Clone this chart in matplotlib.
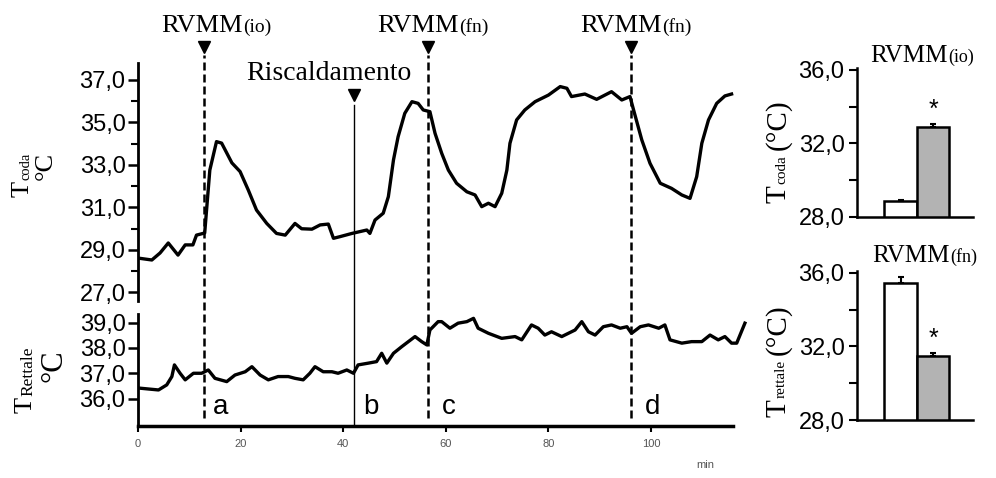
import matplotlib
matplotlib.use('Agg')
import matplotlib.pyplot as plt
from matplotlib import transforms
from matplotlib.lines import Line2D
from matplotlib.ticker import MultipleLocator, FuncFormatter

# tail temperature trace (min, deg C)
tcoda_t = [0, 2.7, 4.3, 5.9, 7.8, 9.2, 10.7, 11.4, 13.0, 14.0,
           15.3, 16.3, 18.3, 19.9, 21.5, 23.1, 25.1, 27.0, 28.7, 30.6,
           31.9, 33.9, 35.5, 37.1, 38.1, 39.4, 41.7, 44.6, 45.2, 46.2,
           47.8, 48.8, 49.8, 50.7, 52.0, 53.4, 54.6, 55.6, 56.9, 57.9,
           59.2, 60.5, 62.1, 64.1, 65.7, 67.0, 68.3, 69.6, 70.9, 71.9,
           72.5, 73.8, 75.4, 77.4, 80.0, 82.3, 83.6, 84.5, 87.1, 89.4,
           92.3, 94.3, 95.9, 96.6, 98.2, 99.8, 101.8, 104.0, 106.0, 107.6,
           108.9, 109.9, 111.2, 112.8, 114.4, 115.7]
tcoda = [28.62, 28.53, 28.86, 29.33, 28.76, 29.24, 29.24, 29.70, 29.80, 32.76,
         34.10, 34.03, 33.10, 32.69, 31.82, 30.88, 30.25, 29.78, 29.70, 30.25,
         30.00, 29.98, 30.18, 30.22, 29.55, 29.63, 29.78, 29.94, 29.78, 30.41,
         30.73, 31.51, 33.24, 34.33, 35.43, 35.98, 35.90, 35.59, 35.51, 34.49,
         33.55, 32.76, 32.14, 31.74, 31.59, 31.04, 31.20, 31.04, 31.67, 32.76,
         34.02, 35.12, 35.59, 35.98, 36.29, 36.69, 36.61, 36.22, 36.34, 36.09,
         36.45, 36.06, 36.22, 35.59, 34.18, 33.08, 32.14, 31.90, 31.59, 31.43,
         32.45, 34.02, 35.12, 35.90, 36.25, 36.34]

# rectal temperature trace (min, deg C)
trett_t = [0.4, 4.0, 5.6, 6.6, 7.1, 8.2, 9.2, 10.8, 12.4, 13.7,
           15.0, 17.3, 18.9, 20.9, 22.2, 23.8, 25.4, 27.3, 29.3, 30.6,
           32.2, 33.5, 34.5, 36.1, 37.8, 39.0, 40.7, 42.0, 42.9, 44.9,
           46.5, 47.5, 48.5, 49.8, 51.4, 52.7, 54.0, 55.3, 56.3, 56.9,
           58.5, 59.2, 60.8, 62.4, 64.1, 65.4, 66.3, 68.3, 70.9, 73.5,
           74.8, 76.7, 78.0, 79.3, 80.6, 82.6, 83.9, 85.2, 86.5, 87.8,
           89.1, 90.7, 92.3, 94.0, 95.3, 96.2, 97.9, 99.5, 101.5, 102.7,
           103.7, 106.0, 107.9, 109.9, 111.5, 113.1, 114.4, 115.7, 116.7, 118.3]
trett = [36.41, 36.34, 36.54, 36.87, 37.33, 37.00, 36.74, 37.00, 37.00, 37.13,
         36.80, 36.67, 36.93, 37.06, 37.26, 36.93, 36.74, 36.87, 36.87, 36.80,
         36.74, 37.00, 37.26, 37.06, 37.06, 37.00, 37.13, 37.00, 37.33, 37.40,
         37.46, 37.79, 37.40, 37.79, 38.05, 38.25, 38.45, 38.25, 38.12, 38.71,
         39.04, 39.04, 38.78, 38.98, 39.04, 39.17, 38.78, 38.58, 38.38, 38.45,
         38.32, 38.91, 38.78, 38.51, 38.64, 38.45, 38.58, 38.71, 39.04, 38.64,
         38.51, 38.84, 38.91, 38.78, 38.84, 38.58, 38.84, 38.91, 38.78, 38.91,
         38.32, 38.19, 38.25, 38.25, 38.51, 38.32, 38.45, 38.19, 38.19, 38.98]

# events (min)
rvmm_times = [12.8, 56.5, 96.1]
rvmm_subs = ['(io)', '(fn)', '(fn)']
heat_time = 42.1
phase_letters = ['a', 'b', 'c', 'd']

# bar summaries: control (white) vs treated (grey)
io_means = [28.85, 32.9]
io_errs = [0.05, 0.15]
fn_means = [35.45, 31.5]
fn_errs = [0.3, 0.12]

W, H = 996, 478
SANS = 'Liberation Sans'
SERIF = 'Liberation Serif'

fig = plt.figure(figsize=(W / 100, H / 100), dpi=100)
renderer = fig.canvas.get_renderer()


def fx(px):
    return px / W


def fy(py):
    return 1 - py / H


def comma_fmt(v, pos):
    return f'{v:.1f}'.replace('.', ',')


def rich(px, py, parts, rotation=0, family=SERIF):
    """Draw consecutive text pieces of different sizes on one baseline"""
    x, y = fx(px), fy(py)
    for s, size, gap in parts:
        if rotation:
            y += gap / H
        else:
            x += gap / W
        t = fig.text(x, y, s, fontsize=size, family=family, ha='left',
                     va='baseline', rotation=rotation, rotation_mode='anchor')
        bb = t.get_window_extent(renderer)
        if rotation:
            y = bb.y1 / H
        else:
            x = bb.x1 / W


XMAX = 119.0

# ---- time course, tail ----
ax_top = fig.add_axes([fx(138), fy(301), 610.5 / W, 238 / H])
ax_top.plot(tcoda_t, tcoda, color='black', lw=2.4, solid_joinstyle='round')
ax_top.set_xlim(0, XMAX)
ax_top.set_ylim(26.6, 37.8)
for s in ['top', 'right', 'bottom']:
    ax_top.spines[s].set_visible(False)
ax_top.spines['left'].set_linewidth(2)
ax_top.set_xticks([])
ax_top.yaxis.set_major_locator(MultipleLocator(2, offset=1))
ax_top.yaxis.set_minor_locator(MultipleLocator(2))
ax_top.yaxis.set_major_formatter(FuncFormatter(comma_fmt))
ax_top.tick_params(axis='y', which='major', length=7, width=1.8, pad=2, labelsize=17)
ax_top.tick_params(axis='y', which='minor', length=5, width=1.5)
ax_top.patch.set_visible(False)

# ---- time course, rectal ----
ax_bot = fig.add_axes([fx(138), fy(426.4), 610.5 / W, 112.6 / H])
ax_bot.plot(trett_t, trett, color='black', lw=2.4, solid_joinstyle='round')
ax_bot.set_xlim(0, XMAX)
ax_bot.set_ylim(34.9, 39.35)
for s in ['top', 'right']:
    ax_bot.spines[s].set_visible(False)
ax_bot.spines['left'].set_linewidth(2)
ax_bot.spines['bottom'].set_linewidth(2.5)
ax_bot.spines['bottom'].set_bounds(0, 115.9)
ax_bot.set_yticks([36, 37, 38, 39])
ax_bot.yaxis.set_major_formatter(FuncFormatter(comma_fmt))
ax_bot.set_xticks(range(0, 101, 20))
ax_bot.tick_params(axis='y', length=7, width=1.8, pad=2, labelsize=17)
ax_bot.tick_params(axis='x', length=4, width=1.5, pad=5, labelsize=8,
                   labelcolor='#555555')
ax_bot.patch.set_visible(False)

for a in [ax_top, ax_bot]:
    for lab in a.get_yticklabels() + a.get_xticklabels():
        lab.set_family(SANS)

fig.text(fx(705), fy(465), 'min', fontsize=8, family=SANS, color='#555555',
         ha='center', va='center')

# event markers spanning both panels
trans = transforms.blended_transform_factory(ax_top.transData, fig.transFigure)
for t in rvmm_times:
    fig.add_artist(Line2D([t, t], [fy(418), fy(55)], transform=trans,
                          color='black', lw=1.8, ls=(0, (3.2, 1.6))))
    fig.add_artist(Line2D([t], [fy(47)], transform=trans, marker='v', ms=9,
                          color='black', ls='none'))
fig.add_artist(Line2D([heat_time, heat_time], [fy(425), fy(105)], transform=trans,
                      color='black', lw=1.0))
fig.add_artist(Line2D([heat_time], [fy(95)], transform=trans, marker='v', ms=9,
                      color='black', ls='none'))

for px, sub in zip([161, 377, 580], rvmm_subs):
    rich(px, 32, [('RVMM', 19, 0), (sub, 14, 1)])
fig.text(fx(329), fy(80), 'Riscaldamento', fontsize=20, family=SERIF,
         ha='center', va='baseline')

for px, letter in zip([213, 363, 442, 645], phase_letters):
    fig.text(fx(px), fy(414), letter, fontsize=20, family=SANS,
             ha='left', va='baseline')

# left axis labels
rich(29, 197, [('T', 19, 0), ('coda', 10.5, 1)], rotation=90)
fig.text(fx(57), fy(166), '°C', fontsize=19, family=SERIF, rotation=90,
         ha='right', va='center')
rich(32, 413, [('T', 19, 0), ('Rettale', 12.5, 1)], rotation=90)
fig.text(fx(68), fy(366), '°C', fontsize=22, family=SERIF, rotation=90,
         ha='right', va='center')


# ---- bar summaries ----
def bar_panel(bottom_py, means, errs, title_sub, title_px, title_py, sub_label,
              label_py):
    ax = fig.add_axes([fx(857), fy(bottom_py), 116 / W, 149 / H])
    xs = [1.32, 2.31]
    ax.bar(xs, means, width=0.99, bottom=0, color=['white', '#b3b3b3'],
           edgecolor='black', linewidth=1.8, zorder=2)
    ax.errorbar(xs, means, yerr=[[0, 0], errs], fmt='none', ecolor='black',
                elinewidth=1.5, capsize=2.5, capthick=1.5, zorder=3)
    ax.text(xs[1], means[1] + errs[1] + 0.12, '*', fontsize=18, family=SANS,
            ha='center', va='bottom')
    ax.set_xlim(0, 3.52)
    ax.set_ylim(28, 36.1)
    for s in ['top', 'right']:
        ax.spines[s].set_visible(False)
    ax.spines['left'].set_linewidth(1.8)
    ax.spines['bottom'].set_linewidth(1.8)
    ax.set_xticks([])
    ax.set_yticks([28, 32, 36])
    ax.yaxis.set_minor_locator(MultipleLocator(2))
    ax.yaxis.set_major_formatter(FuncFormatter(comma_fmt))
    ax.tick_params(axis='y', which='major', length=6, width=1.5, pad=3, labelsize=17)
    ax.tick_params(axis='y', which='minor', length=6, width=1.5)
    for lab in ax.get_yticklabels():
        lab.set_family(SANS)
    rich(title_px, title_py, [('RVMM', 18, 0), (title_sub, 13, 1)])
    rich(785, label_py, [('T', 21, 0), (sub_label, 11, 1), ('(°C)', 21, 5)],
         rotation=90)
    return ax


bar_panel(217, io_means, io_errs, '(io)', 870, 62, 'coda', 203)
bar_panel(420, fn_means, fn_errs, '(fn)', 872, 262, 'rettale', 417)

fig.savefig('out.png', dpi=100, facecolor='white')
